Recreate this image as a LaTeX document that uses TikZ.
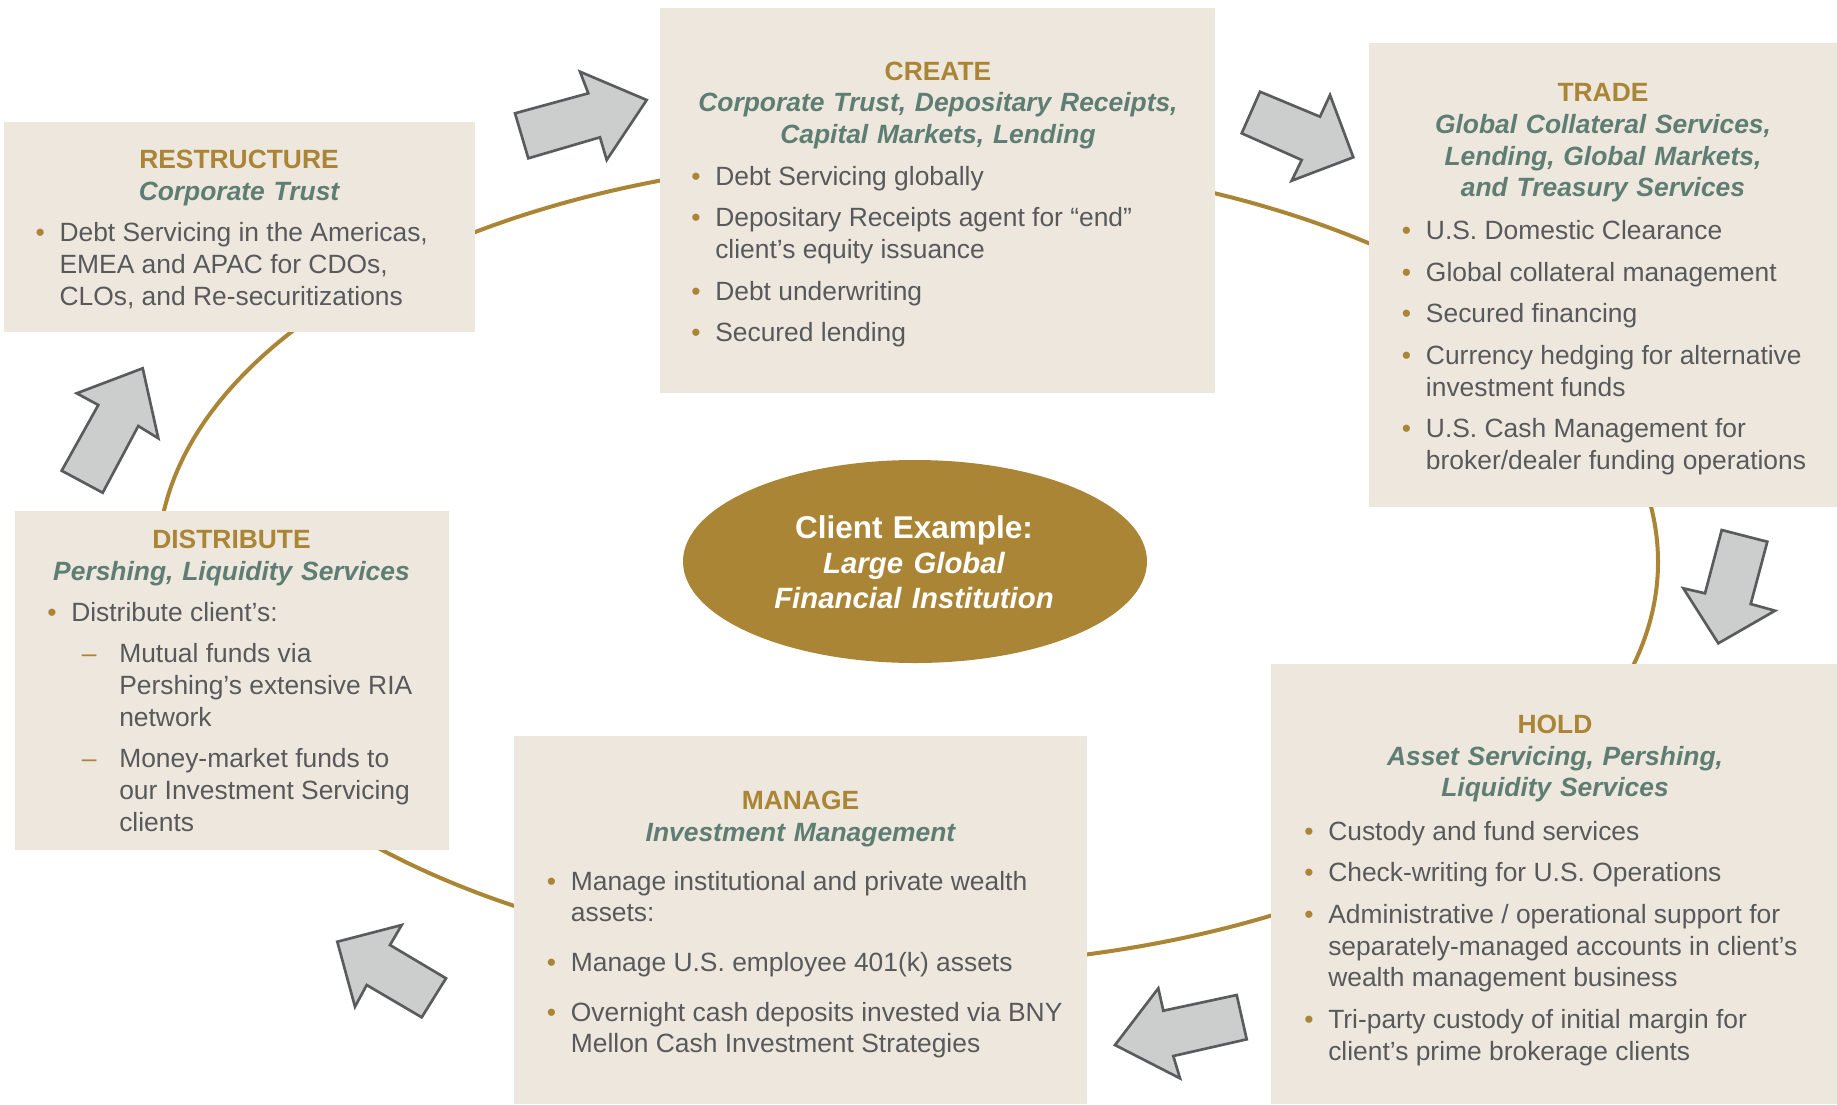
\documentclass[tikz,border=0pt]{standalone}
\usepackage{fontspec}
\setmainfont{Liberation Sans}
\usetikzlibrary{shapes.geometric,fit}

\definecolor{gold}{RGB}{170,133,53}
\definecolor{panelfill}{RGB}{237,231,222}
\definecolor{subgreen}{RGB}{94,125,115}
\definecolor{bodygray}{RGB}{88,89,91}
\definecolor{arrowfill}{RGB}{204,206,206}
\definecolor{arrowline}{RGB}{90,91,93}

\newlength\bind
\setlength\bind{18pt}
\newlength\itemgap
\setlength\itemgap{7.5pt}
\newcommand\blist[1]{\parbox[t]{420pt}{\raggedright #1}}
\newcommand\bitem[1]{\hangindent=\bind\hangafter=1\noindent\makebox[\bind][l]{\textcolor{gold}{\textbullet}}#1}
\newcommand\ditem[1]{\hangindent=54pt\hangafter=1\noindent\hspace*{26pt}\makebox[28pt][l]{\textcolor{gold}{–}}#1}
\newcommand\bgap{\par\vspace{\itemgap}}
\newcommand\subh[1]{\textcolor{subgreen}{\bfseries\itshape #1}}
\newcommand\hubit[1]{{\fontsize{22}{26.25}\selectfont\itshape #1}}

\tikzset{
  panel/.style={fill=panelfill, inner sep=0pt},
  headtext/.style={align=center, inner sep=0pt, anchor=base, text width=440pt, text=gold, font=\fontsize{19.8}{23.8}\selectfont\bfseries},
  listtext/.style={inner sep=0pt, anchor=base west, text=bodygray, font=\fontsize{19.8}{23.8}\selectfont},
  ring/.style={draw=gold, line width=3pt},
  blockarrow/.style={fill=arrowfill, draw=arrowline, line width=2pt, line join=miter},
  hub/.style={ellipse, fill=gold, minimum width=348pt, minimum height=152.25pt, inner sep=0pt},
  hubtext/.style={align=center, inner sep=0pt, anchor=base, text width=320pt, text=white, font=\fontsize{23.6}{26.25}\selectfont\bfseries}
}

\begin{document}
\begin{tikzpicture}[x=0.75pt, y=-0.75pt]
\useasboundingbox (0,0) rectangle (1837,1104);

\draw[ring] (908,562) ellipse [x radius=562.5pt, y radius=303pt];

\node[panel, fit={(3.5,122) (474.5,332)}] (restructure) {};
\node[panel, fit={(660,8) (1215,392.5)}] (create) {};
\node[panel, fit={(1369,43) (1837,507)}] (trade) {};
\node[panel, fit={(1271,664) (1837,1104)}] (hold) {};
\node[panel, fit={(514,736) (1087,1104)}] (manage) {};
\node[panel, fit={(15,511) (449,850)}] (distribute) {};

\node[headtext] (restructureHead) at (239,168.3) {RESTRUCTURE\\ \subh{Corporate Trust}};
\node[listtext] (restructureList) at (35.3,241.7) {\blist{%
  \bitem{Debt Servicing in the Americas,\newline EMEA and APAC for CDOs,\newline CLOs, and Re-securitizations}}};

\node[headtext] (createHead) at (938,80) {CREATE\\ \subh{Corporate Trust, Depositary Receipts,}\\ \subh{Capital Markets, Lending}};
\node[listtext] (createList) at (691,185) {\blist{%
  \bitem{Debt Servicing globally}\bgap
  \bitem{Depositary Receipts agent for “end”\newline client’s equity issuance}\bgap
  \bitem{Debt underwriting}\bgap
  \bitem{Secured lending}}};

\node[headtext] (tradeHead) at (1603,101.7) {TRADE\\ \subh{Global Collateral Services,}\\ \subh{Lending, Global Markets,}\\ \subh{and Treasury Services}};
\node[listtext] (tradeList) at (1401.7,239.3) {\blist{%
  \bitem{U.S. Domestic Clearance}\bgap
  \bitem{Global collateral management}\bgap
  \bitem{Secured financing}\bgap
  \bitem{Currency hedging for alternative\newline investment funds}\bgap
  \bitem{U.S. Cash Management for\newline broker/dealer funding operations}}};

\node[headtext] (holdHead) at (1555,733.3) {HOLD\\ \subh{Asset Servicing, Pershing,}\\ \subh{Liquidity Services}};
\node[listtext] (holdList) at (1304,840) {\blist{%
  \bitem{Custody and fund services}\bgap
  \bitem{Check-writing for U.S. Operations}\bgap
  \bitem{Administrative / operational support for\newline separately-managed accounts in client’s\newline wealth management business}\bgap
  \bitem{Tri-party custody of initial margin for\newline client’s prime brokerage clients}}};

\node[headtext] (manageHead) at (800.5,809.6) {MANAGE\\ \subh{Investment Management}};
\node[listtext] (manageList) at (546.6,890) {\blist{\setlength\itemgap{13.5pt}%
  \bitem{Manage institutional and private wealth\newline assets:}\bgap
  \bitem{Manage U.S. employee 401(k) assets}\bgap
  \bitem{Overnight cash deposits invested via BNY\newline Mellon Cash Investment Strategies}}};

\node[headtext] (distributeHead) at (231.5,548.3) {DISTRIBUTE\\ \subh{Pershing, Liquidity Services}};
\node[listtext] (distributeList) at (47,621) {\blist{%
  \bitem{Distribute client’s:}\bgap
  \ditem{Mutual funds via\newline Pershing’s extensive RIA\newline network}\bgap
  \ditem{Money-market funds to\newline our Investment Servicing\newline clients}}};

\node[hub] (client) at (915,561.5) {};
\node[hubtext] (clientText) at (914,538.3) {Client Example:\\ \hubit{Large Global}\\ \hubit{Financial Institution}};

\draw[blockarrow] (515,113.3) -- (588.3,93.3) -- (580,71.7) -- (646.7,100) -- (606.7,160) -- (600,137.3) -- (528.3,158.3) -- cycle;
\draw[blockarrow] (1260,91.7) -- (1320,116.7) -- (1330,95) -- (1353.3,157.3) -- (1291.7,180.7) -- (1301.7,160) -- (1241.7,133.3) -- cycle;
\draw[blockarrow] (1721.7,530) -- (1767.3,541.7) -- (1750.7,604) -- (1775,610.7) -- (1718.3,643.3) -- (1683.3,588.3) -- (1705,593.3) -- cycle;
\draw[blockarrow] (1158.3,988.3) -- (1115,1045) -- (1180,1078.3) -- (1173.3,1056) -- (1246.7,1039.3) -- (1236.7,995) -- (1163.3,1010.7) -- cycle;
\draw[blockarrow] (401.7,925) -- (337.3,941.7) -- (355,1006.7) -- (366.7,985) -- (421.7,1017.3) -- (446,978.3) -- (390,945) -- cycle;
\draw[blockarrow] (76.7,393.3) -- (142.7,368.3) -- (158.3,438.3) -- (138.3,426) -- (102.7,492.7) -- (61.7,470.7) -- (98.3,405) -- cycle;

\end{tikzpicture}
\end{document}
